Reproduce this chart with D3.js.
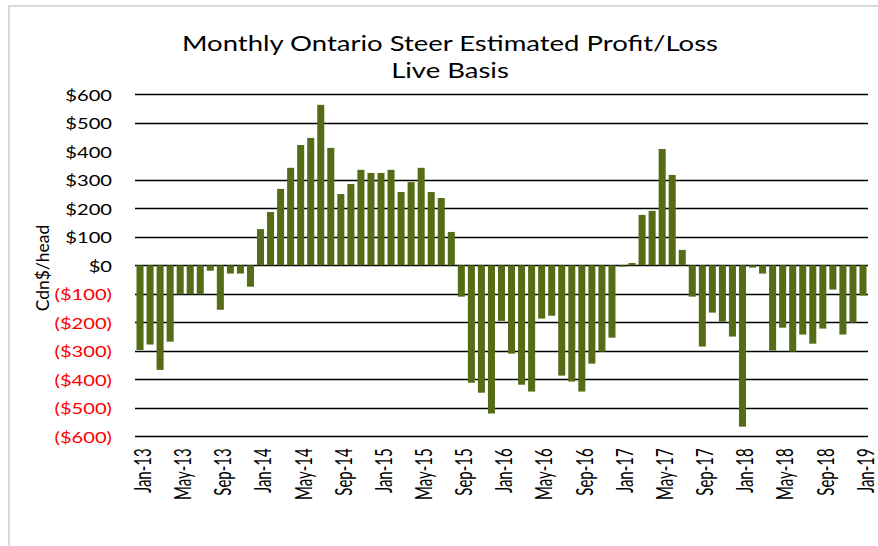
<!DOCTYPE html>
<html>
<head>
<meta charset="utf-8">
<script src="https://cdn.jsdelivr.net/npm/d3@7"></script>
<style>
  body { margin: 0; background: #fff; }
  svg { display: block; }
</style>
</head>
<body>
<svg id="chart" width="878" height="546"></svg>
<script>
// data
var monthNames = ['Jan', 'Feb', 'Mar', 'Apr', 'May', 'Jun', 'Jul', 'Aug', 'Sep', 'Oct', 'Nov', 'Dec'];
var years = ['13', '14', '15', '16', '17', '18', '19'];
var profit2013 = [-297, -278, -367, -268, -102, -102, -102, -19, -156, -29, -29, -75];
var profit2014 = [127, 187, 268, 342, 422, 447, 563, 412, 250, 285, 335, 324];
var profit2015 = [324, 335, 257, 292, 342, 257, 236, 117, -110, -412, -447, -520];
var profit2016 = [-195, -310, -419, -443, -187, -177, -387, -408, -443, -345, -303, -254];
var profit2017 = [-5, 8, 177, 191, 408, 317, 54, -110, -285, -166, -198, -250];
var profit2018 = [-566, -8, -29, -299, -219, -303, -243, -275, -222, -85, -243, -201];
var profit2019 = [-106];
var yTicks = [600, 500, 400, 300, 200, 100, 0, -100, -200, -300, -400, -500, -600];
var xTickLabels = ['Jan-13', 'May-13', 'Sep-13', 'Jan-14', 'May-14', 'Sep-14', 'Jan-15', 'May-15',
  'Sep-15', 'Jan-16', 'May-16', 'Sep-16', 'Jan-17', 'May-17', 'Sep-17', 'Jan-18', 'May-18', 'Sep-18', 'Jan-19'];

var values = [].concat(profit2013, profit2014, profit2015, profit2016, profit2017, profit2018, profit2019);
var months = values.map(function (v, i) {
  return monthNames[i % 12] + '-' + years[Math.floor(i / 12)];
});
var data = months.map(function (m, i) { return {month: m, value: values[i]}; });

var FONT = 'Lato, "Open Sans", sans-serif'
  , SX = 1.3
  , plot = {left: 135, right: 868, top: 94.3, bottom: 436.3};

var svg = d3.select('#chart');

// frame
svg.append('rect')
  .attr('x', 9).attr('y', 6)
  .attr('width', 900).attr('height', 600)
  .attr('fill', 'none')
  .attr('stroke', '#d9d9d9')
  .attr('stroke-width', 2);

var x = d3.scaleBand()
  .domain(months)
  .range([plot.left, plot.right])
  .paddingInner(0.3)
  .paddingOuter(0.15);

var y = d3.scaleLinear()
  .domain([-600, 600])
  .range([plot.bottom, plot.top]);

var fmt = function (d) {
  return d < 0 ? '($' + Math.abs(d) + ')' : '$' + d;
};

// gridlines
svg.append('g')
  .attr('class', 'grid')
  .selectAll('line')
  .data(yTicks.filter(function (d) { return d !== 400; }))
  .join('line')
  .attr('x1', plot.left)
  .attr('x2', plot.right)
  .attr('y1', function (d) { return Math.round(y(d)) + 0.5; })
  .attr('y2', function (d) { return Math.round(y(d)) + 0.5; })
  .attr('stroke', '#000')
  .attr('stroke-width', 1.3);

// y axis labels
var yAxis = d3.axisLeft(y)
  .tickValues(yTicks)
  .tickSize(0)
  .tickPadding(0)
  .tickFormat(fmt);

var gy = svg.append('g')
  .attr('class', 'y axis')
  .attr('transform', 'translate(112,0)')
  .call(yAxis);
gy.select('.domain').remove();
gy.selectAll('.tick text')
  .attr('x', null)
  .attr('dy', null)
  .attr('dominant-baseline', 'central')
  .attr('transform', 'scale(' + SX + ',1)')
  .style('font', '15.5px ' + FONT)
  .style('fill', function (d) { return d < 0 ? '#ff0000' : '#000'; });

// bars
svg.append('g')
  .selectAll('rect')
  .data(data)
  .join('rect')
  .attr('x', function (d) { return x(d.month); })
  .attr('width', x.bandwidth())
  .attr('y', function (d) { return y(Math.max(0, d.value)); })
  .attr('height', function (d) { return Math.abs(y(d.value) - y(0)); })
  .attr('fill', '#556b15');

// x axis labels
var xAxis = d3.axisBottom(x)
  .tickValues(xTickLabels)
  .tickSize(0)
  .tickPadding(0);

var gx = svg.append('g')
  .attr('class', 'x axis')
  .attr('transform', 'translate(2,' + (plot.bottom + 12) + ')')
  .call(xAxis);
gx.select('.domain').remove();
gx.selectAll('.tick text')
  .attr('y', 0)
  .attr('dy', null)
  .attr('dominant-baseline', 'central')
  .attr('text-anchor', 'end')
  .attr('transform', 'scale(1.5,1) rotate(-90)')
  .style('font', '15px ' + FONT)
  .style('fill', '#000');

// axis title
svg.append('text')
  .attr('transform', 'translate(42,268) rotate(-90)')
  .attr('text-anchor', 'middle')
  .attr('dominant-baseline', 'central')
  .style('font', '17.5px ' + FONT)
  .text('Cdn$/head');

// title
var title = svg.append('g')
  .attr('transform', 'translate(450,0) scale(1.25,1)');
title.append('text')
  .attr('y', 51)
  .attr('text-anchor', 'middle')
  .style('font', '22px ' + FONT)
  .text('Monthly Ontario Steer Estimated Profit/Loss');
title.append('text')
  .attr('y', 78)
  .attr('text-anchor', 'middle')
  .style('font', '22px ' + FONT)
  .text('Live Basis');
</script>
</body>
</html>
